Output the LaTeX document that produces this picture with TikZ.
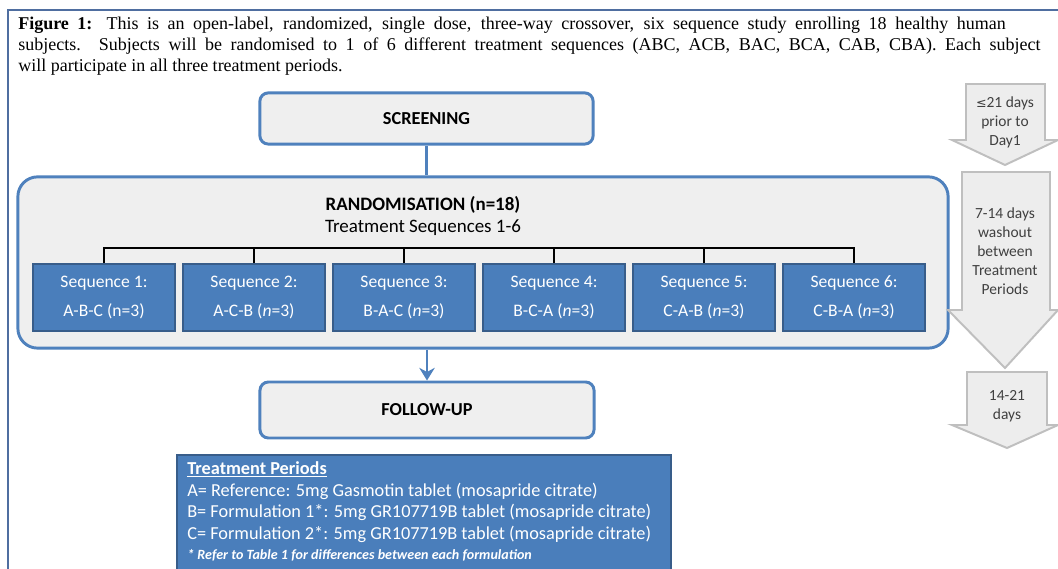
\documentclass[tikz,border=0pt]{standalone}
\usepackage{fontspec}
\setmainfont{Liberation Serif}
\setsansfont{Carlito}
\newfontfamily\symfont{DejaVu Sans}
\usetikzlibrary{arrows.meta, positioning}

% Custom colours
\definecolor{framecol}{RGB}{79,110,160}
\definecolor{boxline}{RGB}{79,129,189}
\definecolor{boxfill}{RGB}{239,239,239}
\definecolor{seqfill}{RGB}{74,126,187}
\definecolor{seqline}{RGB}{56,93,138}
\definecolor{arrfill}{RGB}{237,237,237}
\definecolor{arrline}{RGB}{191,191,191}
\definecolor{arrtext}{RGB}{64,64,64}

\begin{document}
\begin{tikzpicture}[
    % one unit = one pixel of the layout, y going down
    x=0.025cm, y=-0.025cm,
    >=Stealth,
    font=\sffamily,
    node distance=0.15cm,
    % --- Style Definitions ---
    stagebox/.style={
        rectangle, rounded corners=#1,
        draw=boxline, fill=boxfill, line width=2.1pt
    },
    header/.style={
        font=\sffamily\bfseries\fontsize{13}{15}\selectfont,
        text=black, inner sep=0pt
    },
    seqnode/.style={
        rectangle, draw=seqline, fill=seqfill, line width=1.4pt,
        text=white, align=center,
        minimum width=3.55cm, minimum height=1.68cm,
        font=\sffamily\fontsize{12.5}{21}\selectfont
    },
    tree/.style={line width=2pt, draw=black},
    link/.style={line width=2.1pt, draw=boxline},
    timearrow/.style={
        draw=arrline, fill=arrfill, line width=1.4pt, line join=miter
    },
    daystext/.style={
        align=center, text=arrtext, inner sep=0pt,
        font=\sffamily\fontsize{11}{13.5}\selectfont
    }
]
\clip (0,0) rectangle (1058,569);

% ================= Caption & frame =================
\draw[framecol, line width=1.4pt] (8,580) -- (8,10) -- (1070,10);
\node[anchor=north west, inner sep=0pt, align=left,
      font=\rmfamily\fontsize{12.8}{15}\selectfont] (caption) at (18,17) {%
    \makebox[24.68cm][s]{\textbf{Figure 1:} This is an open-label, randomized, single dose, three-way crossover, six sequence study enrolling 18 healthy human}\\
    \makebox[25.55cm][s]{subjects. Subjects will be randomised to 1 of 6 different treatment sequences (ABC, ACB, BAC, BCA, CAB, CBA). Each subject}\\
    will participate in all three treatment periods.};

% ================= Main flow =================
\node[stagebox=6pt, minimum width=8.33cm, minimum height=1.28cm, header] (screen) at (426.5,118.5) {SCREENING};

\node[stagebox=14pt, minimum width=23.25cm, minimum height=4.28cm] (rand) at (483,262.5) {};
\node[header, font=\sffamily\bfseries\fontsize{13.5}{15}\selectfont] (randtitle) at (423,205) {RANDOMISATION (n=18)};
\node[inner sep=0pt, font=\sffamily\fontsize{13.5}{15}\selectfont] (randsub) at (423,228) {Treatment Sequences 1-6};

\node[seqnode] (seq1) at (104,297.5) {Sequence 1:\\A-B-C (n=3)};
\node[seqnode, right=of seq1] (seq2) {Sequence 2:\\A-C-B (\textit{n}=3)};
\node[seqnode, right=of seq2] (seq3) {Sequence 3:\\B-A-C (\textit{n}=3)};
\node[seqnode, right=of seq3] (seq4) {Sequence 4:\\B-C-A (\textit{n}=3)};
\node[seqnode, right=of seq4] (seq5) {Sequence 5:\\C-A-B (\textit{n}=3)};
\node[seqnode, right=of seq5] (seq6) {Sequence 6:\\C-B-A (\textit{n}=3)};

\node[stagebox=6pt, minimum width=8.35cm, minimum height=1.4cm, header] (follow) at (427,410) {FOLLOW-UP};

% ================= Treatment periods =================
\node[rectangle, draw=seqline, fill=seqfill, line width=1.4pt, anchor=north west,
      minimum width=12.35cm, minimum height=3.3cm] (periods) at (176,454) {};
\node[anchor=north west, inner sep=0pt, align=left, text=white,
      font=\sffamily\fontsize{13}{15.6}\selectfont] (periodtext) at (187,461) {%
    \textbf{\underline{Treatment Periods}}\\
    A= Reference: 5mg Gasmotin tablet (mosapride citrate)\\
    B= Formulation 1*: 5mg GR107719B tablet (mosapride citrate)\\
    C= Formulation 2*: 5mg GR107719B tablet (mosapride citrate)\\[-2pt]
    {\bfseries\itshape\fontsize{10}{12}\selectfont * Refer to Table 1 for differences between each formulation}};

% ================= Connection Logic =================
\draw[link] (screen.south) -- (screen.south |- rand.north);
\draw[link, -{Stealth[length=9pt, width=11pt]}] (follow.north |- rand.south) -- (follow.north);

\coordinate (bus) at (427,248);
\foreach \i in {1,...,6}
    \draw[tree] (bus) -| (seq\i.north);

% ================= Time line =================
\draw[timearrow] (966,84) -- (1045,84) -- (1045,140) -- (1058,140) -- (1005,165)
    -- (952,140) -- (966,140) -- cycle;
\node[daystext] (days1) at (1005,122) {{\symfont\fontsize{9}{10}\selectfont ≤}21 days\\prior to\\Day1};

\draw[timearrow] (962,172) -- (1050,172) -- (1050,310) -- (1058,310) -- (1005,368)
    -- (948,310) -- (962,310) -- cycle;
\node[daystext] (days2) at (1005,251) {7-14 days\\washout\\between\\Treatment\\Periods};

\draw[timearrow] (967,372) -- (1047,372) -- (1047,425) -- (1058,425) -- (1007,448)
    -- (952,425) -- (967,425) -- cycle;
\node[daystext] (days3) at (1007,406) {14-21\\days};

\end{tikzpicture}
\end{document}
